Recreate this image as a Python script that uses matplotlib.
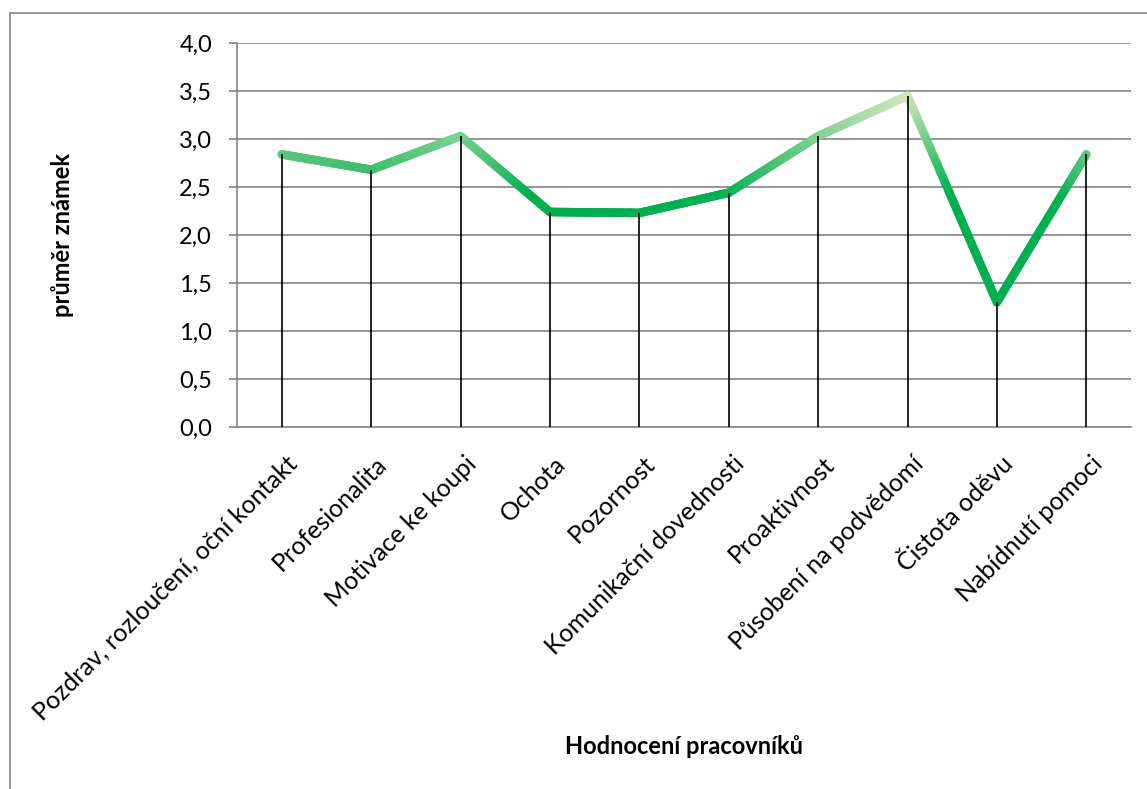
import numpy as np
import matplotlib
matplotlib.use("Agg")
import matplotlib.pyplot as plt
from matplotlib.collections import LineCollection
from matplotlib.colors import LinearSegmentedColormap
from matplotlib.patches import Rectangle
import matplotlib.transforms as mtransforms

plt.rcParams['font.family'] = ['Lato', 'DejaVu Sans']

categories = ["Pozdrav, rozloučení, oční kontakt", "Profesionalita", "Motivace ke koupi",
              "Ochota", "Pozornost", "Komunikační dovednosti", "Proaktivnost",
              "Působení na podvědomí", "Čistota oděvu", "Nabídnutí pomoci"]
values = [2.84, 2.68, 3.03, 2.24, 2.23, 2.44, 3.03, 3.45, 1.30, 2.84]
yticks = [0.0, 0.5, 1.0, 1.5, 2.0, 2.5, 3.0, 3.5, 4.0]

W, H = 1147, 789
fig = plt.figure(figsize=(W/100, H/100), dpi=100)
ax = fig.add_axes([237/W, 1-427/H, 894/W, 384/H])

x = np.arange(len(values))
y = np.array(values)

# gradient line: split each segment into short pieces so the colour follows height
cmap = LinearSegmentedColormap.from_list("grn", ["#00b050", "#d6e8bd"])
norm = plt.Normalize(2.4, 3.47)
segs = []
cols = []
for i in range(len(x)-1):
    t = np.linspace(0, 1, 60)
    xs = x[i] + (x[i+1]-x[i])*t
    ys = y[i] + (y[i+1]-y[i])*t
    pts = np.column_stack([xs, ys])
    for j in range(len(pts)-1):
        segs.append(pts[j:j+2])
        cols.append(cmap(norm((pts[j, 1]+pts[j+1, 1])/2)))
lc = LineCollection(segs, colors=cols, linewidths=6.2, capstyle='round', joinstyle='round', zorder=3)
ax.add_collection(lc)

# drop lines
ax.vlines(x, 0, y, colors="black", linewidth=1.2, zorder=4)

ax.set_xlim(-0.5, len(values)-0.5)
ax.set_ylim(0, 4)
ax.set_yticks(yticks)
ax.set_yticklabels([("%.1f" % v).replace(".", ",") for v in yticks], fontsize=17)
ax.yaxis.grid(True, color="#8c8c8c", linewidth=1.3)
ax.set_axisbelow(True)
ax.tick_params(axis='y', length=6, width=1.3, color="#8c8c8c", pad=12)

ax.set_xticks(x)
ax.set_xticklabels(categories, fontsize=18, rotation=45, ha='right', va='top', rotation_mode='anchor')
ax.tick_params(axis='x', length=0, pad=18)
offset = mtransforms.ScaledTranslation(4/100, 0, fig.dpi_scale_trans)
for lab in ax.get_xticklabels():
    lab.set_transform(lab.get_transform() + offset)

for s in ["top", "right"]:
    ax.spines[s].set_visible(False)
for s in ["left", "bottom"]:
    ax.spines[s].set_color("#8c8c8c")
    ax.spines[s].set_linewidth(1.3)

fig.text(63/W, 1-235/H, "průměr známek", rotation=90, ha='center', va='center',
         fontsize=17, fontweight='bold')
fig.text(684/W, 1-747/H, "Hodnocení pracovníků", ha='center', va='center',
         fontsize=17, fontweight='bold')

# chart area border (only top and left are inside the picture)
fig.patches.append(Rectangle((10/W, -0.1), 1.2, 1.1-13/H, transform=fig.transFigure,
                             fill=False, edgecolor="#8c8c8c", linewidth=1.3))

fig.savefig("out.png", dpi=100)
